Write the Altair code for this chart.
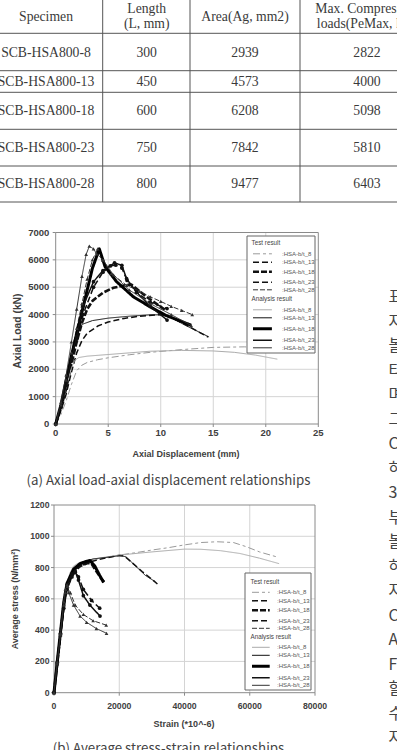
import altair as alt
import pandas as pd

# ---------------- table values ----------------
SPECIMENS = ["SCB-HSA800-8", "SCB-HSA800-13", "SCB-HSA800-18", "SCB-HSA800-23", "SCB-HSA800-28"]
LENGTHS = [300, 450, 600, 750, 800]
AREAS = [2939, 4573, 6208, 7842, 9477]
MAX_LOADS = [2822, 4000, 5098, 5810, 6403]
HEADERS = [["Specimen"], ["Length", "(L, mm)"], ["Area(Ag, mm2)"], ["Max. Compressive", "loads(PeMax, kN)"]]

SERIES = ["HSA-b/t_8", "HSA-b/t_13", "HSA-b/t_18", "HSA-b/t_23", "HSA-b/t_28"]

# ---------------- (a) axial load (kN) vs axial displacement (mm) ----------------
A_TEST_8 = [(0, 0), (0.5, 350), (1, 850), (1.5, 1450), (2, 1950), (2.5, 2150), (3, 2250), (4, 2350), (5, 2420),
            (7, 2530), (9, 2620), (12, 2720), (15, 2800), (18, 2820), (20.5, 2760)]
A_TEST_13 = [(0, 0), (0.5, 500), (1, 1100), (1.5, 1900), (2, 2600), (2.5, 3050), (3, 3320), (4, 3580), (5, 3730),
             (6.5, 3860), (8, 3940), (10, 4000), (11, 3900), (12.5, 3600), (14.5, 3180)]
A_TEST_18 = [(0, 0), (0.5, 600), (1, 1300), (1.5, 2200), (2, 3000), (2.5, 3700), (3, 4200), (3.5, 4500), (4.5, 4800),
             (5.5, 4980), (6.5, 5060), (7.2, 5098), (8, 4850), (9, 4550), (10.5, 4150)]
A_TEST_23 = [(0, 0), (0.5, 600), (1, 1400), (1.5, 2300), (2, 3100), (2.6, 4000), (3.6, 5000), (4.5, 5550), (5.2, 5780),
             (5.7, 5810), (6.3, 5700), (6.8, 5250), (7.7, 4820), (9, 4450), (10.6, 4220)]
A_TEST_28 = [(0, 0), (0.5, 700), (1, 1600), (1.5, 2600), (2, 3500), (2.5, 4400), (3, 5300), (3.5, 6000), (4.0, 6403),
             (4.5, 6000), (5.3, 5500), (6.75, 5070), (8, 4850), (9, 4650), (10, 4480), (11, 4300), (12, 4150), (13, 4000)]
A_ANA_8 = [(0, 0), (0.5, 650), (1, 1350), (1.5, 2050), (1.8, 2320), (2.2, 2430), (3, 2480), (5, 2540), (7, 2600),
           (9, 2660), (12, 2690), (15, 2670), (17, 2620), (19, 2520), (21.1, 2370)]
A_ANA_13 = [(0, 0), (0.5, 700), (1, 1500), (1.5, 2400), (2, 3300), (2.5, 3640), (3.5, 3780), (5, 3870), (7, 3940),
            (9, 3990), (10, 3990), (11, 3880), (12.5, 3580), (14.6, 3180)]
A_ANA_18 = [(0, 0), (0.5, 700), (1, 1600), (1.5, 2500), (2, 3300), (2.5, 4100), (3, 4900), (3.5, 5700), (4.15, 6400),
            (4.7, 5750), (5.8, 5200), (7.4, 4650), (9, 4280), (10.5, 3970), (12.9, 3610)]
A_ANA_23 = [(0, 0), (0.5, 650), (1, 1500), (1.5, 2400), (2, 3200), (2.6, 4300), (3.6, 5200), (4.5, 5610), (5.6, 5890),
            (6.3, 5800), (6.75, 5310), (7.7, 4820), (9, 4300), (10.6, 3800)]
A_ANA_28 = [(0, 0), (0.5, 800), (1, 1800), (1.5, 3000), (2, 4200), (2.5, 5400), (2.9, 6200), (3.2, 6500), (3.6, 6400),
            (3.9, 6220), (4.5, 6000), (5.5, 5450), (7, 4900), (9, 4400), (11, 4000), (12.9, 3600)]

# ---------------- (b) average stress (N/mm2) vs strain (1e-6) ----------------
B_TEST_8 = [(0, 0), (1000, 190), (2000, 380), (3000, 560), (4000, 680), (5000, 740), (7000, 800), (10000, 835),
            (15000, 860), (20000, 880), (25000, 895), (30000, 912), (35000, 927), (40000, 945), (45000, 960),
            (50000, 965), (55000, 960), (59000, 933), (63000, 900), (68000, 870)]
B_TEST_13 = [(0, 0), (1000, 190), (2000, 380), (3000, 560), (4000, 690), (5000, 750), (7000, 795), (10000, 830),
             (15000, 858), (20000, 878), (21500, 875), (24000, 830), (27000, 775), (30000, 725), (31700, 695)]
B_TEST_18 = [(0, 0), (1000, 190), (2000, 380), (3000, 560), (4000, 680), (6000, 770), (8000, 810), (10500, 830),
             (11500, 825), (12500, 790), (13500, 760), (14500, 730), (15700, 700)]
B_TEST_23 = [(0, 0), (1000, 185), (2000, 370), (3000, 540), (4000, 660), (5500, 740), (6500, 770), (7500, 740),
             (9000, 660), (11500, 590), (14000, 540)]
B_TEST_28 = [(0, 0), (1000, 185), (2000, 370), (3000, 560), (3500, 640), (4200, 680), (5000, 640), (6500, 560),
             (9000, 500), (12000, 460), (16000, 432)]
B_ANA_8 = [(0, 0), (1000, 200), (2000, 400), (3000, 580), (4000, 700), (5000, 770), (6000, 810), (8000, 835),
           (12000, 855), (20000, 880), (30000, 900), (40000, 918), (45000, 917), (51000, 908), (57000, 890),
           (63000, 860), (69000, 825)]
B_ANA_13 = [(0, 0), (1000, 200), (2000, 390), (3000, 570), (4000, 690), (5500, 780), (8000, 830), (12000, 855),
            (20000, 875), (22000, 870), (25000, 810), (28000, 750), (31000, 710)]
B_ANA_18 = [(0, 0), (1000, 200), (2000, 390), (3000, 580), (4000, 700), (6000, 790), (8000, 825), (10000, 840),
            (11000, 845), (12500, 810), (14000, 750), (15200, 705)]
B_ANA_23 = [(0, 0), (1000, 195), (2000, 380), (3000, 560), (4000, 690), (5500, 760), (6500, 775), (7500, 720),
            (9000, 620), (11000, 560), (14100, 490)]
B_ANA_28 = [(0, 0), (1000, 195), (2000, 380), (3000, 580), (3500, 660), (4000, 690), (4500, 640), (6000, 560),
            (8000, 490), (10000, 450), (13000, 410), (16100, 380)]

A_XTICKS = [0, 5, 10, 15, 20, 25]
A_YTICKS = [0, 1000, 2000, 3000, 4000, 5000, 6000, 7000]
B_XTICKS = [0, 20000, 40000, 60000, 80000]
B_YTICKS = [0, 200, 400, 600, 800, 1000, 1200]

CAPTION_A = "(a) Axial load-axial displacement relationships"
CAPTION_B = "(b) Average stress-strain relationships"
KOREAN_LINE_STARTS = ["표", "자", "볼", "타", "며", "그", "C", "하", "3", "부", "볼", "하", "자", "C", "A", "F", "할", "수", "자"]

# ---------------- styles / layout ----------------
W, H = 397, 750
F_AX = "Liberation Sans"
F_TAB = "Liberation Serif"
F_CAP = "Noto Sans CJK KR"
GRID = "#d4d4d4"
FRAME = "#8a8a8a"
TXT = "#404040"

TEST_COLORS = ["#9a9a9a", "#111111", "#111111", "#111111", "#333333"]
TEST_DASH = [[7, 3, 3, 3], [6, 3], [6, 2], [6, 3], [5, 2]]
TEST_WIDTH = [1, 1.5, 2.6, 1.5, 1]
ANA_COLORS = ["#ababab", "#111111", "#000000", "#111111", "#333333"]
ANA_DASH = [[1, 0], [1, 0], [1, 0], [1, 0], [1, 0]]
ANA_WIDTH = [1, 1, 3, 1.5, 1]

COL_CX = [46, 146.7, 245, 367]
ROW_CY = [52.5, 81.5, 111, 147.7, 184.3]
HEAD_CY1 = 16.5
HEAD_CY2 = [8.5, 24]
H_RULES = [33.3, 70.7, 92.3, 129.3, 166, 202]
V_RULES = [102.7, 190, 300]
TABLE_BOTTOM = 202

PAGE_X = alt.Scale(domain=[0, W], range=[0, W], nice=False, zero=False)
PAGE_Y = alt.Scale(domain=[0, H], range=[0, H], nice=False, zero=False)


def px(field):
    return alt.X(field, scale=PAGE_X, axis=None)


def py(field):
    return alt.Y(field, scale=PAGE_Y, axis=None)


# ---------------- page: table, captions, cut-off text ----------------
rows = []
for j, lines in enumerate(HEADERS):
    ys_ = [HEAD_CY1] if len(lines) == 1 else HEAD_CY2
    for line, yy in zip(lines, ys_):
        rows.append({"x": COL_CX[j], "y": yy, "t": line})
for i, vals in enumerate(zip(SPECIMENS, LENGTHS, AREAS, MAX_LOADS)):
    for j, v in enumerate(vals):
        rows.append({"x": COL_CX[j], "y": ROW_CY[i], "t": str(v)})
table_text = alt.Chart(pd.DataFrame(rows)).mark_text(
    font=F_TAB, fontSize=13.7, color="#3a3a3a", align="center", baseline="middle"
).encode(x=px("x:Q"), y=py("y:Q"), text="t:N")

h_rules = alt.Chart(pd.DataFrame({"y": H_RULES})).mark_rule(color="#555555", strokeWidth=1).encode(
    y=py("y:Q"), x=alt.value(0), x2=alt.value(W))
v_rules = alt.Chart(pd.DataFrame({"x": V_RULES})).mark_rule(color="#555555", strokeWidth=1).encode(
    x=px("x:Q"), y=alt.value(0), y2=alt.value(TABLE_BOTTOM))

captions = alt.Chart(pd.DataFrame({"x": [168.5, 168.5], "y": [481, 749], "t": [CAPTION_A, CAPTION_B]})).mark_text(
    font=F_CAP, fontSize=13.3, color="#444444", align="center", baseline="middle"
).encode(x=px("x:Q"), y=py("y:Q"), text="t:N")

kor = alt.Chart(pd.DataFrame({
    "x": [388.5] * len(KOREAN_LINE_STARTS),
    "y": [297 + 24.5 * k for k in range(len(KOREAN_LINE_STARTS))],
    "t": KOREAN_LINE_STARTS,
})).mark_text(font=F_CAP, fontSize=16, color="#444444", align="left", baseline="middle").encode(
    x=px("x:Q"), y=py("y:Q"), text="t:N")

page = alt.layer(h_rules, v_rules, table_text, captions, kor)


# ---------------- chart panels ----------------
def pairs_df(groups, prefix):
    out = []
    for name, pts in zip(SERIES, groups):
        for k, (xv, yv) in enumerate(pts):
            out.append({"x": xv, "y": yv, "s": prefix + name, "k": k})
    return pd.DataFrame(out)


def panel(tag, test_groups, ana_groups, xdom, ydom, xrange, yrange, xticks, yticks, xtitle, ytitle,
          ylab_dx, xlab_dy, xtitle_pos, ytitle_pos, lab_fs, ytitle_fs, leg_t, leg_a, box, sym_path, lab_off):
    xs = alt.Scale(domain=xdom, range=xrange, nice=False, zero=False)
    ys = alt.Scale(domain=ydom, range=yrange, nice=False, zero=False)

    def X(f):
        return alt.X(f, scale=xs, axis=None)

    def Y(f):
        return alt.Y(f, scale=ys, axis=None)

    x0 = alt.XDatum(xdom[0], scale=xs, axis=None)
    y0 = alt.YDatum(ydom[0], scale=ys, axis=None)

    tdf = pairs_df(test_groups, tag + "T:")
    adf = pairs_df(ana_groups, tag + "A:")
    tdom = [tag + "T:" + s for s in SERIES]
    adom = [tag + "A:" + s for s in SERIES]

    xt = pd.DataFrame({"v": xticks})
    yt = pd.DataFrame({"v": yticks})

    grid_v = alt.Chart(pd.DataFrame({"v": xticks[1:-1]})).mark_rule(color=GRID, strokeWidth=1).encode(
        x=X("v:Q"), y=y0, y2=alt.Y2Datum(ydom[1]))
    grid_h = alt.Chart(pd.DataFrame({"v": yticks[1:-1]})).mark_rule(color=GRID, strokeWidth=1).encode(
        y=Y("v:Q"), x=x0, x2=alt.X2Datum(xdom[1]))
    frame = alt.Chart(pd.DataFrame({"a": [0]})).mark_rect(fill="transparent", stroke=FRAME, strokeWidth=1).encode(
        x=x0, x2=alt.X2Datum(xdom[1]), y=y0, y2=alt.Y2Datum(ydom[1]))

    # axis ticks and labels
    xtick = alt.Chart(xt).mark_rule(color=FRAME, strokeWidth=1).encode(
        x=X("v:Q"), y=y0, y2=alt.value(yrange[0] + 3))
    ytick = alt.Chart(yt).mark_rule(color=FRAME, strokeWidth=1).encode(
        y=Y("v:Q"), x=x0, x2=alt.value(xrange[0] - 3))
    xlab = alt.Chart(xt).mark_text(font=F_AX, fontSize=lab_fs, fontWeight="bold", color=TXT, align="center",
                                   baseline="middle", dy=xlab_dy).encode(
        x=X("v:Q"), y=y0, text=alt.Text("v:Q", format="d"))
    ylab = alt.Chart(yt).mark_text(font=F_AX, fontSize=lab_fs, fontWeight="bold", color=TXT, align="right",
                                   baseline="middle", dx=-ylab_dx).encode(
        y=Y("v:Q"), x=x0, text=alt.Text("v:Q", format="d"))
    xtitle_m = alt.Chart(pd.DataFrame({"t": [xtitle]})).mark_text(
        font=F_AX, fontSize=9, fontWeight="bold", color=TXT, align="center", baseline="middle").encode(
        x=alt.value(xtitle_pos[0]), y=alt.value(xtitle_pos[1]), text="t:N")
    ytitle_m = alt.Chart(pd.DataFrame({"t": [ytitle]})).mark_text(
        font=F_AX, fontSize=ytitle_fs, fontWeight="bold", color=TXT, align="center", baseline="middle",
        angle=270).encode(
        x=alt.value(ytitle_pos[0]), y=alt.value(ytitle_pos[1]), text="t:N")

    def legend(title, pos):
        return alt.Legend(title=title, orient="none", legendX=pos[0], legendY=pos[1],
                          symbolType=sym_path, symbolSize=36, labelOffset=lab_off,
                          labelFont=F_AX, labelFontSize=6, labelColor="#555555",
                          titleFont=F_AX, titleFontSize=6.3, titleFontWeight="normal", titleColor="#444444",
                          titlePadding=4, rowPadding=1, padding=0, labelLimit=80,
                          labelExpr="substring(datum.label, 3)", symbolFillColor="transparent")

    def lines(df, dom, title, colors, dashes, widths, pos):
        leg = legend(title, pos)
        return alt.Chart(df).mark_line(strokeCap="butt", strokeJoin="round").encode(
            x=X("x:Q"), y=Y("y:Q"),
            color=alt.Color("s:N", scale=alt.Scale(domain=dom, range=colors), legend=leg),
            strokeDash=alt.StrokeDash("s:N", scale=alt.Scale(domain=dom, range=dashes), legend=leg),
            strokeWidth=alt.StrokeWidth("s:N", scale=alt.Scale(type="ordinal", domain=dom, range=widths),
                                        legend=leg),
            order="k:Q",
        )

    test_lines = lines(tdf, tdom, "Test result", TEST_COLORS, TEST_DASH, TEST_WIDTH, leg_t)
    ana_lines = lines(adf, adom, "Analysis result", ANA_COLORS, ANA_DASH, ANA_WIDTH, leg_a)

    allpts = pd.concat([tdf, adf], ignore_index=True)
    c23 = allpts[allpts["s"].str.endswith("_23")]
    t28 = allpts[allpts["s"].str.endswith("_28")]
    pts23 = alt.Chart(c23).mark_point(shape="circle", filled=True, size=14, color="#111111", opacity=1).encode(
        x=X("x:Q"), y=Y("y:Q"))
    pts28 = alt.Chart(t28).mark_point(shape="triangle-up", filled=True, size=14, color="#333333", opacity=1).encode(
        x=X("x:Q"), y=Y("y:Q"))

    lbox = alt.Chart(pd.DataFrame({"a": [0]})).mark_rect(fill="white", stroke="#666666", strokeWidth=1).encode(
        x=alt.value(box[0]), x2=alt.value(box[1]), y=alt.value(box[2]), y2=alt.value(box[3]))

    return alt.layer(grid_v, grid_h, frame, xtick, ytick, xlab, ylab, xtitle_m, ytitle_m,
                     test_lines, ana_lines, pts23, pts28, lbox).resolve_scale(
        color="independent", strokeDash="independent", strokeWidth="independent")


panel_a = panel(
    "aa", [A_TEST_8, A_TEST_13, A_TEST_18, A_TEST_23, A_TEST_28],
    [A_ANA_8, A_ANA_13, A_ANA_18, A_ANA_23, A_ANA_28],
    [0, 25], [0, 7000], [55.7, 318.3], [424, 232.5],
    A_XTICKS, A_YTICKS,
    "Axial Displacement (mm)", "Axial Load (kN)",
    6.4, 8.5, (186, 454), (18.3, 331), 9.5, 10.3,
    (251.5, 240), (251.5, 296), (247, 315, 236, 353), "M-1,0L5.3,0", 21.5)

panel_b = panel(
    "bb", [B_TEST_8, B_TEST_13, B_TEST_18, B_TEST_23, B_TEST_28],
    [B_ANA_8, B_ANA_13, B_ANA_18, B_ANA_23, B_ANA_28],
    [0, 80000], [0, 1200], [54, 315], [692.7, 505],
    B_XTICKS, B_YTICKS,
    "Strain (*10^-6)", "Average stress (N/mm²)",
    4.5, 13.3, (184, 724.3), (15, 599), 8.7, 9,
    (250.5, 578.5), (250.5, 633.5), (245, 311, 573, 690), "M-1,0L4.9,0", 17.5)

chart = alt.layer(page, panel_a, panel_b).resolve_scale(
    x="independent", y="independent", color="independent", strokeDash="independent", strokeWidth="independent"
).properties(
    width=W, height=H, padding=0, autosize=alt.AutoSizeParams(type="none"), background="white"
).configure_view(stroke=None)

chart.save("out.html", embed_options={"renderer": "svg", "actions": False})
